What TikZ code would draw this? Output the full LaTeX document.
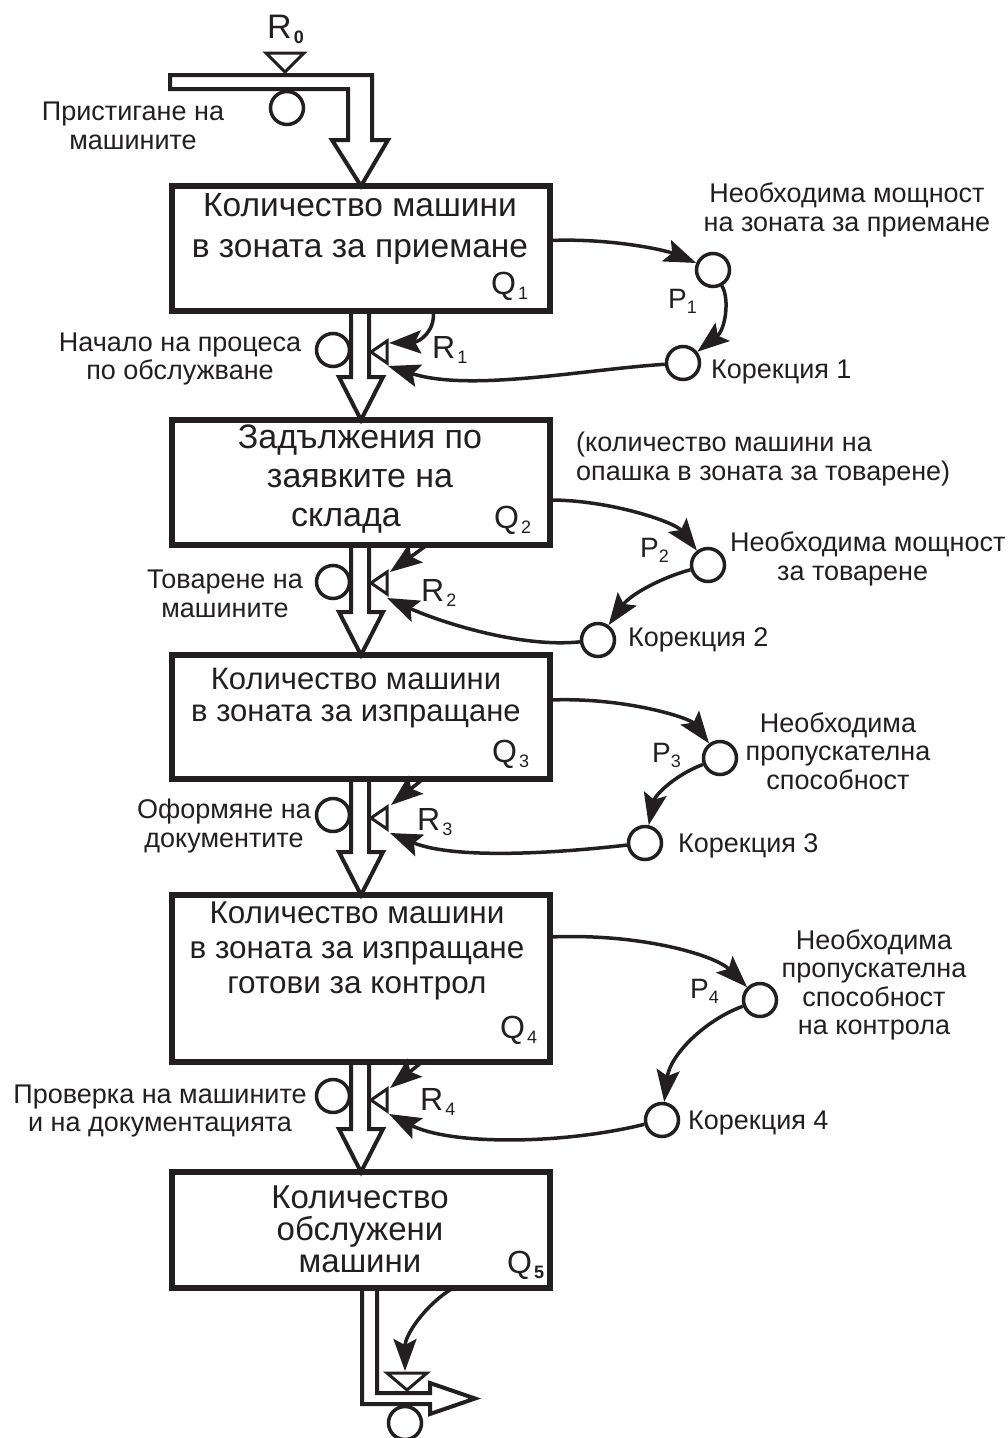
\documentclass[tikz,border=0pt]{standalone}
\usepackage{fontspec}
\setmainfont{Liberation Sans}
\usetikzlibrary{arrows.meta,calc}
\definecolor{ink}{HTML}{231F20}
\newcommand\lowidx[2][2pt]{\hspace{#1}\raisebox{-5pt}{\fontsize{18}{18}\selectfont #2}}
\begin{document}
\begin{tikzpicture}[x=1pt,y=-1pt,
  boxn/.style={draw=ink,line width=6pt,rectangle,inner sep=0pt,outer sep=0pt,minimum width=378pt},
  boxt/.style={align=center,inner sep=0pt,text=ink},
  circ/.style={draw=ink,line width=3.5pt,circle,inner sep=0pt,minimum size=33pt},
  pipe/.style={draw=ink,line width=4pt,line join=miter},
  valve/.style={draw=ink,line width=3pt,line join=miter},
  conn/.style={draw=ink,line width=3.5pt,-{Stealth[length=32pt,width=23pt,inset=6pt]}},
  lab/.style={font=\fontsize{27}{28.5}\selectfont,align=center,inner sep=0pt,text=ink},
  big/.style={font=\fontsize{32}{32}\selectfont,inner sep=0pt,anchor=base west,text=ink},
  pbig/.style={font=\fontsize{28}{28}\selectfont,inner sep=0pt,anchor=base west,text=ink}]
\fill[white] (0,0) rectangle (1008,1438);
\useasboundingbox (0,0) rectangle (1008,1438);

% boxes
\node[boxn,minimum height=125pt] (b1) at (361,248.5) {};
\node[boxn,minimum height=125pt] (b2) at (361,482.5) {};
\node[boxn,minimum height=124pt] (b3) at (361,717) {};
\node[boxn,minimum height=167pt] (b4) at (361,978.5) {};
\node[boxn,minimum height=116pt] (b5) at (361,1230) {};

\node[boxt,font=\fontsize{33.5}{41}\selectfont] (t1) at (360,229) {Количество машини\\в зоната за приемане};
\node[boxt,font=\fontsize{34}{39}\selectfont] (t2) at (360,479) {Задължения по\\заявките на\\склада\hspace*{28pt}};
\node[boxt,font=\fontsize{31}{32}\selectfont] (t3) at (356,698) {Количество машини\\в зоната за изпращане};
\node[boxt,font=\fontsize{31.5}{35}\selectfont] (t4) at (357,951) {Количество машини\\в зоната за изпращане\\готови за контрол};
\node[boxt,font=\fontsize{33}{32}\selectfont] (t5) at (360,1229) {Количество\\обслужени\\машини};

\node[big] (q1) at (491,294) {Q\lowidx{1}};
\node[big] (q2) at (494,528) {Q\lowidx{2}};
\node[big] (q3) at (492,762) {Q\lowidx{3}};
\node[big] (q4) at (500,1038) {Q\lowidx{4}};
\node[big] (q5) at (507,1273) {Q\lowidx{\textbf{5}}};

% top inflow pipe
\draw[pipe] (170,89) -- (170,75) -- (372,75) -- (372,140) -- (388,140) -- (b1.north) -- (332,140) -- (348,140) -- (348,89) -- cycle;
\draw[valve] (266,53) -- (304,53) -- (285,72) -- cycle;
\node[font=\fontsize{34}{34}\selectfont,inner sep=0pt,anchor=base west,text=ink] (r0) at (267,38) {R\lowidx[2pt]{\textbf{0}}};
\node[circ] (c0) at (287,108) {};
\node[lab] (l0) at (133,126) {Пристигане на\\машините};

% pipes between boxes
\newcommand\pipeconn[2]{\draw[pipe] ($(#1.south)+(-10,0)$) -- ($(#2.north)+(-10,-43)$) -- ($(#2.north)+(-22,-43)$) -- (#2.north) -- ($(#2.north)+(22,-43)$) -- ($(#2.north)+(8,-43)$) -- ($(#1.south)+(8,0)$);}
\pipeconn{b1}{b2}
\pipeconn{b2}{b3}
\pipeconn{b3}{b4}
\pipeconn{b4}{b5}

% left flow circles and labels
\node[circ] (c1) at (333,350) {};
\node[circ] (c2) at (333,582) {};
\node[circ] (c3) at (333,815) {};
\node[circ] (c4) at (333,1096) {};
\node[lab] (l1) at (180,359) {Начало на процеса\\по обслужване};
\node[lab] (l2) at (225,594) {Товарене на\\машините};
\node[lab] (l3) at (224,826) {Оформяне на\\документите};
\node[lab] (l4) at (160,1111) {Проверка на машините\\и на документацията};

% valves
\draw[valve] (371,352) -- (387,341) -- (387,363) -- cycle;
\draw[valve] (371,583) -- (387,572) -- (387,594) -- cycle;
\draw[valve] (371,818) -- (387,807) -- (387,829) -- cycle;
\draw[valve] (371,1100) -- (387,1089) -- (387,1111) -- cycle;
\coordinate (v1u) at (389,343);
\coordinate (v1d) at (388,366);
\coordinate (v2u) at (390,572);
\coordinate (v2d) at (387,598);
\coordinate (v3u) at (391,805);
\coordinate (v3d) at (390,833);
\coordinate (v4u) at (390,1088);
\coordinate (v4d) at (389,1114);

\node[big] (r1) at (432,358) {R\lowidx{1}};
\node[big] (r2) at (421,601) {R\lowidx{2}};
\node[big] (r3) at (417,830) {R\lowidx{3}};
\node[big] (r4) at (420,1110) {R\lowidx{4}};

% right side circles
\node[circ] (p1) at (713,270) {};
\node[circ] (k1) at (683,363) {};
\node[circ] (p2) at (708,565) {};
\node[circ] (k2) at (598,640) {};
\node[circ] (p3) at (720,758) {};
\node[circ] (k3) at (645,843) {};
\node[circ] (p4) at (760,1000) {};
\node[circ] (k4) at (662,1120) {};

\node[pbig] (pl1) at (668,308) {P\lowidx[0pt]{1}};
\node[pbig] (pl2) at (640,557) {P\lowidx[0pt]{2}};
\node[pbig] (pl3) at (652,762) {P\lowidx[0pt]{3}};
\node[pbig] (pl4) at (690,998) {P\lowidx[0pt]{4}};

\node[lab] (n1) at (847,210) {Необходима мощност\\на зоната за приемане};
\node[lab,align=left,anchor=west] (n2) at (576,459) {(количество машини на\\опашка в зоната за товарене)};
\node[lab,align=left,anchor=west] (n3) at (730,559) {Необходима мощност\\\hspace*{47pt}за товарене};
\node[lab] (n4) at (838,751) {Необходима\\пропускателна\\способност};
\node[lab] (n5) at (874,985) {Необходима\\пропускателна\\способност\\на контрола};

\node[lab,anchor=west] (kl1) at (711,372) {Корекция 1};
\node[lab,anchor=west] (kl2) at (628,640) {Корекция 2};
\node[lab,anchor=west] (kl3) at (678,846) {Корекция 3};
\node[lab,anchor=west] (kl4) at (688,1123) {Корекция 4};

% connectors: box -> P
\draw[conn] ([yshift=8pt]b1.east) .. controls (610,238) and (665,250) .. (p1);
\draw[conn] ([yshift=-17.5pt]b2.east) .. controls (610,500) and (675,522) .. (p2);
\draw[conn] ([yshift=17pt]b3.east) .. controls (625,697) and (690,718) .. (p3);
\draw[conn] ([yshift=41.5pt]b4.east) .. controls (640,933) and (715,955) .. (p4);
% P -> K
\draw[conn] (p1) .. controls (730,300) and (725,330) .. (k1);
\draw[conn] (p2) .. controls (660,578) and (630,595) .. (k2);
\draw[conn] (p3) .. controls (675,775) and (655,795) .. (k3);
\draw[conn] (p4) .. controls (705,1020) and (670,1055) .. (k4);
% K -> valves
\draw[conn] (k1) .. controls (580,370) and (470,392) .. (v1d);
\draw[conn] (k2) .. controls (520,648) and (440,622) .. (v2d);
\draw[conn] (k3) .. controls (540,855) and (450,858) .. (v3d);
\draw[conn] (k4) .. controls (560,1145) and (450,1145) .. (v4d);
% box -> valves
\draw[conn] ([xshift=72pt]b1.south) .. controls (436,330) and (420,342) .. (v1u);
\draw[conn] ([xshift=66pt]b2.south) -- (v2u);
\draw[conn] ([xshift=62pt]b3.south) -- (v3u);
\draw[conn] ([xshift=61pt]b4.south) -- (v4u);

% outflow at bottom
\draw[pipe] ($(b5.south)+(1,0)$) -- (362,1404) -- (430,1404) -- (430,1414) -- (475,1398.5) -- (430,1383) -- (430,1393) -- (377,1393) -- ($(b5.south)+(16,0)$);
\draw[valve] (387,1373) -- (427,1373) -- (407,1390) -- cycle;
\coordinate (v5) at (405,1371);
\draw[conn] ([xshift=92pt]b5.south) .. controls (425,1305) and (405,1335) .. (v5);
\node[circ] (c5) at (405,1423) {};
\end{tikzpicture}
\end{document}
